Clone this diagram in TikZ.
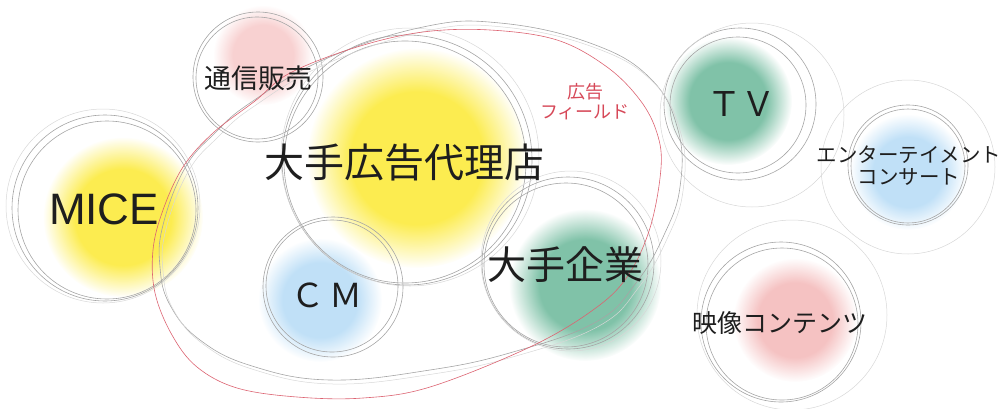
\documentclass[tikz,border=0pt]{standalone}
\usepackage{fontspec}
\usepackage{tikz}
\usetikzlibrary{fadings}

\newfontfamily\jpfont{Noto Sans CJK JP}
\newfontfamily\latfont{Liberation Sans}

\definecolor{blobyellow}{RGB}{252,236,80}
\definecolor{blobgreen}{RGB}{128,194,168}
\definecolor{blobblue}{RGB}{192,224,247}
\definecolor{blobpink}{RGB}{245,194,194}
\definecolor{ringgray}{RGB}{165,165,165}
\definecolor{fieldred}{RGB}{214,72,88}
\definecolor{inkgray}{RGB}{30,30,30}

% soft edged blob
\pgfdeclareradialshading{blobshade}{\pgfpointorigin}{color(0bp)=(white); color(15bp)=(white); color(25bp)=(black); color(50bp)=(black)}
\pgfdeclarefading{blobfade}{\pgfuseshading{blobshade}}

\begin{document}
\begin{tikzpicture}[x=1pt, y=-1pt,
    ring/.style={draw=ringgray, line width=0.6pt},
    faintring/.style={draw=ringgray!45, line width=0.5pt},
    blob/.style={path fading=blobfade},
    field/.style={draw=fieldred!85, line width=0.6pt},
    lbl/.style={text=inkgray, inner sep=0pt}]
    \useasboundingbox (0,0) rectangle (1005,408);
    \clip (0,0) rectangle (1005,408);

    % colour blobs
    \fill[blobyellow, blob] (123,217) circle (80);
    \fill[blobpink!75, blob] (263,55) circle (50);
    \fill[blobyellow, blob] (417,158) circle (110);
    \fill[blobblue, blob] (320,300) circle (62);
    \fill[blobgreen, blob] (585,285) circle (76);
    \fill[blobgreen, blob] (728,101) circle (64);
    \fill[blobblue, blob] (908,172) circle (58);
    \fill[blobpink, blob] (795,320) circle (62);

    % MICE rings
    \draw[ring] (105,208) circle (93);
    \draw[ring] (107,210) circle (89);
    \draw[faintring] (103,206) circle (97);

    % mail order rings
    \draw[ring] (258,77) circle (65);
    \draw[ring] (257,78) circle (61);

    % agency rings
    \draw[ring] (407,160) circle (125);
    \draw[ring] (405,162) circle (121);
    \draw[faintring] (410,157) circle (129);

    % CM rings
    \draw[ring] (333,287) circle (70);
    \draw[ring] (332,286) circle (66);

    % company rings
    \draw[ring] (568,263) circle (86);
    \draw[ring] (566,265) circle (82);
    \draw[faintring] (571,261) circle (90);

    % TV rings
    \draw[ring] (740,104) circle (76);
    \draw[ring] (738,105) circle (68);
    \draw[faintring] (752,115) circle (92);

    % entertainment rings
    \draw[ring] (908,165) circle (60);
    \draw[ring] (908,166) circle (57);
    \draw[faintring] (908,167) circle (87);

    % video rings
    \draw[ring] (781,322) circle (80);
    \draw[ring] (782,324) circle (76);
    \draw[faintring] (792,315) circle (95);

    % gray field outline
    \draw[ring] plot[smooth cycle, tension=0.7] coordinates {(250,103) (323,60) (423,27) (500,23) (590,43) (650,78) (678,130) (680,187) (664,235) (636,283) (596,322) (513,352) (430,370) (330,380) (252,366) (200,340) (170,305) (160,267) (163,225) (185,168) (215,133)};
    \draw[faintring, shift={(3,4)}] plot[smooth cycle, tension=0.7] coordinates {(250,103) (323,60) (423,27) (500,23) (590,43) (650,78) (678,130) (680,187) (664,235) (636,283) (596,322) (513,352) (430,370) (330,380) (252,366) (200,340) (170,305) (160,267) (163,225) (185,168) (215,133)};

    % red field outline
    \draw[field] plot[smooth cycle, tension=0.6] coordinates {(290,73) (357,47) (423,32) (490,30) (557,40) (607,67) (640,100) (657,133) (661,168) (650,228) (627,277) (593,310) (530,347) (430,387) (363,398) (297,397) (237,388) (197,367) (172,335) (155,293) (153,250) (163,210) (183,167) (213,133) (255,101)};

    % labels
    \node[lbl, font=\latfont\fontsize{44}{48}\selectfont] (mice) at (104,209) {MICE};
    \node[lbl, font=\jpfont\fontsize{27}{30}\selectfont] (mailorder) at (258,78) {通信販売};
    \node[lbl, font=\jpfont\fontsize{40}{44}\selectfont] (agency) at (404,162) {大手広告代理店};
    \node[lbl, text=fieldred, align=center, font=\jpfont\fontsize{18}{20}\selectfont] (field) at (585,102) {広告\\フィールド};
    \node[lbl, font=\jpfont\fontsize{33}{36}\selectfont] (cm) at (327,295) {Ｃ\kern6ptＭ};
    \node[lbl, font=\jpfont\fontsize{39}{42}\selectfont] (company) at (565,265) {大手企業};
    \node[lbl, font=\jpfont\fontsize{34}{36}\selectfont] (tv) at (741,104) {ＴＶ};
    \node[lbl, align=center, font=\jpfont\fontsize{20.5}{22}\selectfont] (entertain) at (909,166) {エンターテイメント\\コンサート};
    \node[lbl, font=\jpfont\fontsize{25}{28}\selectfont] (video) at (780,323) {映像コンテンツ};
\end{tikzpicture}
\end{document}
